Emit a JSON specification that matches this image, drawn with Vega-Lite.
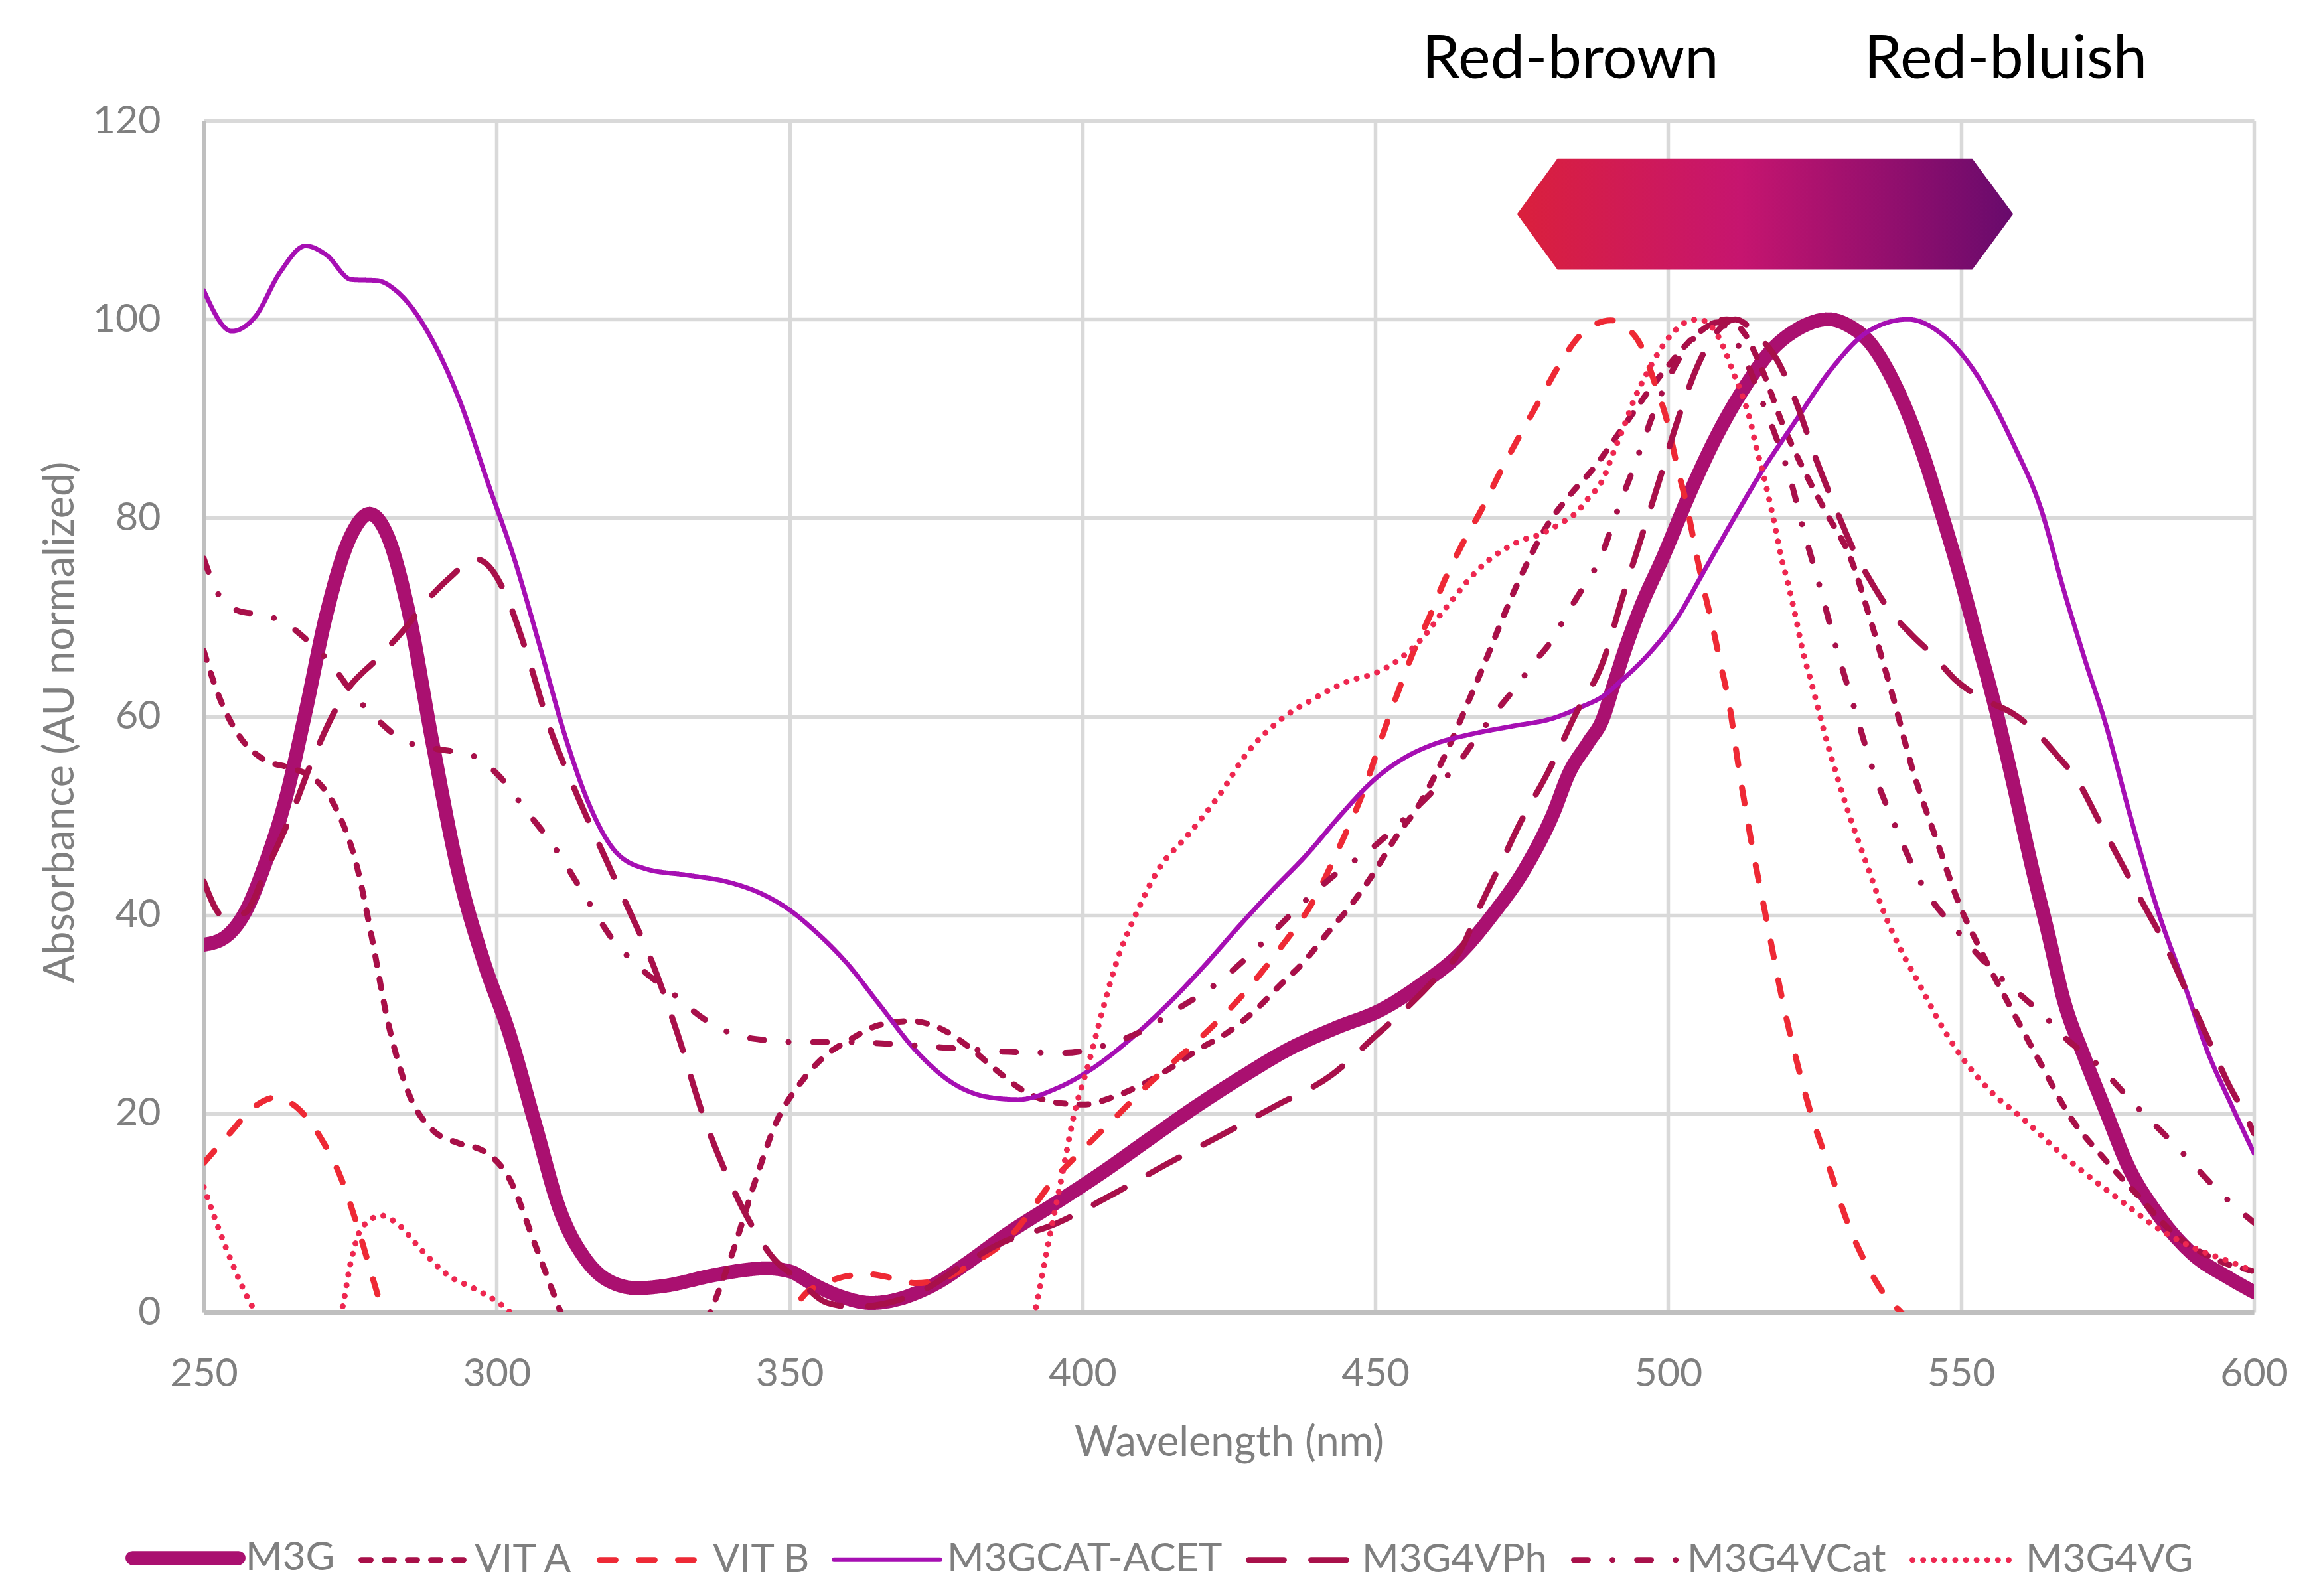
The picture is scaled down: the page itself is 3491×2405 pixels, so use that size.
{
"$schema": "https://vega.github.io/schema/vega-lite/v6.json",
"width": 3089, "height": 1795,
"autosize": {"type": "none"},
"padding": {"left": 307, "top": 182, "right": 95, "bottom": 428},
"background": "white",
"config": {
"view": {"stroke": null},
"axis": {"grid": true, "gridColor": "#D9D9D9", "gridWidth": 5.5, "domainColor": "#BFBFBF", "domainWidth": 7, "ticks": false, "tickSize": 0, "labelFont": "Lato", "labelFontSize": 59, "labelColor": "#7F7F7F", "titleFont": "Lato", "titleFontSize": 63, "titleColor": "#7F7F7F", "titleFontWeight": "normal", "labelFlush": false, "labelOverlap": false},
"legend": {"labelFont": "Lato", "labelFontSize": 60, "labelColor": "#7F7F7F", "padding": 0, "labelLimit": 1000}
},
"datasets": {
"curves": [
{"s":"M3G","x":250,"y":37},{"s":"M3G","x":253.5,"y":37.7},{"s":"M3G","x":257,"y":40.2},{"s":"M3G","x":260.4,"y":45},{"s":"M3G","x":263.9,"y":51.5},{"s":"M3G","x":267.4,"y":60.5},{"s":"M3G","x":270.9,"y":70.2},{"s":"M3G","x":275.2,"y":78.3},{"s":"M3G","x":278.3,"y":80.4},{"s":"M3G","x":281.3,"y":78.3},{"s":"M3G","x":284.8,"y":71},{"s":"M3G","x":289.1,"y":57.2},{"s":"M3G","x":293.5,"y":44.2},{"s":"M3G","x":297.8,"y":35.3},{"s":"M3G","x":302.2,"y":28},{"s":"M3G","x":306.5,"y":19.1},{"s":"M3G","x":310.9,"y":10.1},{"s":"M3G","x":315.2,"y":5.3},{"s":"M3G","x":319.6,"y":3},{"s":"M3G","x":324,"y":2.4},{"s":"M3G","x":328.3,"y":2.6},{"s":"M3G","x":337,"y":3.7},{"s":"M3G","x":342,"y":4.2},{"s":"M3G","x":346,"y":4.4},{"s":"M3G","x":350,"y":4.1},{"s":"M3G","x":354,"y":2.8},{"s":"M3G","x":359,"y":1.5},{"s":"M3G","x":364,"y":0.9},{"s":"M3G","x":368,"y":1.2},{"s":"M3G","x":372,"y":2},{"s":"M3G","x":376,"y":3.2},{"s":"M3G","x":380,"y":4.8},{"s":"M3G","x":387.5,"y":8},{"s":"M3G","x":395.5,"y":11},{"s":"M3G","x":403.5,"y":14.1},{"s":"M3G","x":411.4,"y":17.4},{"s":"M3G","x":419.4,"y":20.7},{"s":"M3G","x":427.3,"y":23.7},{"s":"M3G","x":435.3,"y":26.5},{"s":"M3G","x":443.2,"y":28.6},{"s":"M3G","x":451.2,"y":30.5},{"s":"M3G","x":457.6,"y":32.9},{"s":"M3G","x":464.6,"y":36.2},{"s":"M3G","x":470,"y":40},{"s":"M3G","x":475.7,"y":44.8},{"s":"M3G","x":480.3,"y":50.1},{"s":"M3G","x":483.1,"y":54.3},{"s":"M3G","x":486.4,"y":57.4},{"s":"M3G","x":488.8,"y":59.7},{"s":"M3G","x":490.6,"y":63},{"s":"M3G","x":492.5,"y":66.5},{"s":"M3G","x":495.3,"y":71},{"s":"M3G","x":499.1,"y":76},{"s":"M3G","x":503.7,"y":82.5},{"s":"M3G","x":508.4,"y":88.4},{"s":"M3G","x":513.1,"y":93.2},{"s":"M3G","x":517.8,"y":97},{"s":"M3G","x":521.8,"y":98.9},{"s":"M3G","x":527.4,"y":100},{"s":"M3G","x":531,"y":99.3},{"s":"M3G","x":534.2,"y":97.8},{"s":"M3G","x":538.5,"y":93.7},{"s":"M3G","x":542.8,"y":87.6},{"s":"M3G","x":546.5,"y":80.8},{"s":"M3G","x":549.6,"y":74.6},{"s":"M3G","x":552.7,"y":67.8},{"s":"M3G","x":555.8,"y":61},{"s":"M3G","x":558.8,"y":53.5},{"s":"M3G","x":561.9,"y":45.3},{"s":"M3G","x":565,"y":37.8},{"s":"M3G","x":567.4,"y":31.7},{"s":"M3G","x":571.1,"y":25.6},{"s":"M3G","x":574.8,"y":20.1},{"s":"M3G","x":578.5,"y":14.7},{"s":"M3G","x":583.5,"y":9.9},{"s":"M3G","x":589.6,"y":5.8},{"s":"M3G","x":595.8,"y":3.4},{"s":"M3G","x":600,"y":2},

{"s":"VIT A","x":250,"y":66.6},{"s":"VIT A","x":252.6,"y":62},{"s":"VIT A","x":256.1,"y":58},{"s":"VIT A","x":260.4,"y":55.6},{"s":"VIT A","x":264.8,"y":54.8},{"s":"VIT A","x":269.1,"y":53.6},{"s":"VIT A","x":272.6,"y":50.7},{"s":"VIT A","x":276.1,"y":45},{"s":"VIT A","x":278.7,"y":37.7},{"s":"VIT A","x":281.3,"y":29.6},{"s":"VIT A","x":284.8,"y":22.3},{"s":"VIT A","x":289.1,"y":18.3},{"s":"VIT A","x":293.5,"y":17},{"s":"VIT A","x":297.8,"y":16.2},{"s":"VIT A","x":302.2,"y":13.4},{"s":"VIT A","x":306.5,"y":6.9},{"s":"VIT A","x":310.9,"y":0},{"s":"VIT A","x":315,"y":-6},{"s":"VIT A","x":322,"y":-10},{"s":"VIT A","x":330,"y":-7},{"s":"VIT A","x":336.5,"y":0},{"s":"VIT A","x":340,"y":5.5},{"s":"VIT A","x":344.6,"y":14},{"s":"VIT A","x":347.8,"y":19.2},{"s":"VIT A","x":351.8,"y":23},{"s":"VIT A","x":355.7,"y":25.6},{"s":"VIT A","x":360.5,"y":27.5},{"s":"VIT A","x":365.3,"y":28.9},{"s":"VIT A","x":370.8,"y":29.3},{"s":"VIT A","x":375.6,"y":28.6},{"s":"VIT A","x":380.4,"y":26.8},{"s":"VIT A","x":385.2,"y":24.4},{"s":"VIT A","x":389.9,"y":22.3},{"s":"VIT A","x":395.5,"y":21.1},{"s":"VIT A","x":400.2,"y":20.9},{"s":"VIT A","x":405,"y":21.6},{"s":"VIT A","x":409.8,"y":22.8},{"s":"VIT A","x":414.6,"y":24.4},{"s":"VIT A","x":419.4,"y":26.3},{"s":"VIT A","x":424.9,"y":28.2},{"s":"VIT A","x":429.7,"y":30.5},{"s":"VIT A","x":433.7,"y":32.9},{"s":"VIT A","x":437.7,"y":35.2},{"s":"VIT A","x":441.6,"y":38},{"s":"VIT A","x":445.6,"y":40.8},{"s":"VIT A","x":449.6,"y":44.1},{"s":"VIT A","x":453.6,"y":47.9},{"s":"VIT A","x":457.6,"y":51.2},{"s":"VIT A","x":461,"y":55},{"s":"VIT A","x":467.7,"y":64},{"s":"VIT A","x":474.3,"y":73.4},{"s":"VIT A","x":479.4,"y":79.3},{"s":"VIT A","x":483.1,"y":82.2},{"s":"VIT A","x":487.4,"y":85.1},{"s":"VIT A","x":492.5,"y":89.3},{"s":"VIT A","x":496.7,"y":92.8},{"s":"VIT A","x":501.4,"y":96.3},{"s":"VIT A","x":504,"y":98},{"s":"VIT A","x":507,"y":99.4},{"s":"VIT A","x":510,"y":100},{"s":"VIT A","x":513,"y":98.6},{"s":"VIT A","x":516,"y":95},{"s":"VIT A","x":519.5,"y":89.5},{"s":"VIT A","x":523,"y":85},{"s":"VIT A","x":527,"y":80.5},{"s":"VIT A","x":531.1,"y":76},{"s":"VIT A","x":534.8,"y":69.2},{"s":"VIT A","x":538.5,"y":61.7},{"s":"VIT A","x":541.6,"y":54.9},{"s":"VIT A","x":545.9,"y":47.4},{"s":"VIT A","x":549.6,"y":41.2},{"s":"VIT A","x":553.9,"y":35.8},{"s":"VIT A","x":558.8,"y":30.3},{"s":"VIT A","x":563.7,"y":24.9},{"s":"VIT A","x":568.7,"y":19.6},{"s":"VIT A","x":574.2,"y":15.6},{"s":"VIT A","x":580.4,"y":11.6},{"s":"VIT A","x":586.5,"y":7.8},{"s":"VIT A","x":592.7,"y":5.5},{"s":"VIT A","x":600,"y":4.1},

{"s":"VIT B","x":250,"y":15},{"s":"VIT B","x":254.3,"y":17.9},{"s":"VIT B","x":258.7,"y":20.7},{"s":"VIT B","x":262.2,"y":21.6},{"s":"VIT B","x":265.7,"y":20.7},{"s":"VIT B","x":270,"y":17.5},{"s":"VIT B","x":273.5,"y":13.4},{"s":"VIT B","x":276.1,"y":8.9},{"s":"VIT B","x":278.7,"y":3.7},{"s":"VIT B","x":280.4,"y":0.3},{"s":"VIT B","x":283,"y":-5},{"s":"VIT B","x":300,"y":-20},{"s":"VIT B","x":330,"y":-15},{"s":"VIT B","x":345,"y":-4},{"s":"VIT B","x":350.3,"y":0},{"s":"VIT B","x":353,"y":2},{"s":"VIT B","x":355.7,"y":2.8},{"s":"VIT B","x":359.7,"y":3.6},{"s":"VIT B","x":363.7,"y":3.8},{"s":"VIT B","x":367.6,"y":3.4},{"s":"VIT B","x":371.6,"y":2.9},{"s":"VIT B","x":376,"y":3.3},{"s":"VIT B","x":381,"y":4.8},{"s":"VIT B","x":387.5,"y":7.5},{"s":"VIT B","x":395.5,"y":13.6},{"s":"VIT B","x":401,"y":16.9},{"s":"VIT B","x":405.8,"y":19.7},{"s":"VIT B","x":411.4,"y":23},{"s":"VIT B","x":419.4,"y":27.2},{"s":"VIT B","x":427.3,"y":31.9},{"s":"VIT B","x":433.7,"y":36.6},{"s":"VIT B","x":439.3,"y":41.3},{"s":"VIT B","x":444,"y":47},{"s":"VIT B","x":448,"y":52.5},{"s":"VIT B","x":451.3,"y":58.2},{"s":"VIT B","x":454.1,"y":62.8},{"s":"VIT B","x":456.5,"y":66.5},{"s":"VIT B","x":459.3,"y":70.1},{"s":"VIT B","x":461.6,"y":73.4},{"s":"VIT B","x":464.9,"y":77.4},{"s":"VIT B","x":468.2,"y":80.9},{"s":"VIT B","x":471.4,"y":84.7},{"s":"VIT B","x":474.2,"y":87.8},{"s":"VIT B","x":477.9,"y":91.7},{"s":"VIT B","x":481.3,"y":95.3},{"s":"VIT B","x":485,"y":98.4},{"s":"VIT B","x":490.2,"y":99.9},{"s":"VIT B","x":492.5,"y":99.3},{"s":"VIT B","x":495.3,"y":97.4},{"s":"VIT B","x":497.7,"y":93.6},{"s":"VIT B","x":500,"y":89.3},{"s":"VIT B","x":501.4,"y":85.5},{"s":"VIT B","x":503.3,"y":80.9},{"s":"VIT B","x":504.7,"y":76.7},{"s":"VIT B","x":506.1,"y":72.8},{"s":"VIT B","x":507.5,"y":69.3},{"s":"VIT B","x":509,"y":65.1},{"s":"VIT B","x":510.4,"y":61.3},{"s":"VIT B","x":512,"y":55},{"s":"VIT B","x":514.4,"y":46.7},{"s":"VIT B","x":516.9,"y":39.2},{"s":"VIT B","x":519.4,"y":31.7},{"s":"VIT B","x":521.8,"y":25.6},{"s":"VIT B","x":524.3,"y":20.1},{"s":"VIT B","x":527.4,"y":14.7},{"s":"VIT B","x":530.5,"y":9.2},{"s":"VIT B","x":534.2,"y":4.4},{"s":"VIT B","x":537.9,"y":1},{"s":"VIT B","x":539.7,"y":0},{"s":"VIT B","x":543,"y":-3},{"s":"VIT B","x":555,"y":-12},{"s":"VIT B","x":600,"y":-30},

{"s":"M3GCAT-ACET","x":250,"y":102.9},{"s":"M3GCAT-ACET","x":254.8,"y":98.8},{"s":"M3GCAT-ACET","x":258.7,"y":100.2},{"s":"M3GCAT-ACET","x":263,"y":104.7},{"s":"M3GCAT-ACET","x":267.4,"y":107.4},{"s":"M3GCAT-ACET","x":270.9,"y":106.5},{"s":"M3GCAT-ACET","x":275.2,"y":104},{"s":"M3GCAT-ACET","x":279.6,"y":103.9},{"s":"M3GCAT-ACET","x":283,"y":102.8},{"s":"M3GCAT-ACET","x":289.1,"y":97.8},{"s":"M3GCAT-ACET","x":293.5,"y":92.1},{"s":"M3GCAT-ACET","x":298.7,"y":83.2},{"s":"M3GCAT-ACET","x":303,"y":75.9},{"s":"M3GCAT-ACET","x":307.4,"y":67},{"s":"M3GCAT-ACET","x":311.7,"y":58},{"s":"M3GCAT-ACET","x":316.1,"y":50.7},{"s":"M3GCAT-ACET","x":320.4,"y":46.3},{"s":"M3GCAT-ACET","x":325.7,"y":44.6},{"s":"M3GCAT-ACET","x":332.6,"y":44},{"s":"M3GCAT-ACET","x":339.6,"y":43.3},{"s":"M3GCAT-ACET","x":345.7,"y":42},{"s":"M3GCAT-ACET","x":350,"y":40.5},{"s":"M3GCAT-ACET","x":354.1,"y":38.5},{"s":"M3GCAT-ACET","x":359.7,"y":35.2},{"s":"M3GCAT-ACET","x":365.3,"y":31},{"s":"M3GCAT-ACET","x":371.6,"y":26.3},{"s":"M3GCAT-ACET","x":378,"y":23},{"s":"M3GCAT-ACET","x":384.4,"y":21.6},{"s":"M3GCAT-ACET","x":389.1,"y":21.4},{"s":"M3GCAT-ACET","x":395.5,"y":22.5},{"s":"M3GCAT-ACET","x":401.9,"y":24.6},{"s":"M3GCAT-ACET","x":408.2,"y":27.5},{"s":"M3GCAT-ACET","x":414.6,"y":31},{"s":"M3GCAT-ACET","x":421,"y":35},{"s":"M3GCAT-ACET","x":426.5,"y":38.7},{"s":"M3GCAT-ACET","x":432.1,"y":42.3},{"s":"M3GCAT-ACET","x":438.5,"y":46.2},{"s":"M3GCAT-ACET","x":444,"y":50},{"s":"M3GCAT-ACET","x":449.6,"y":53.5},{"s":"M3GCAT-ACET","x":455.2,"y":55.9},{"s":"M3GCAT-ACET","x":460,"y":57.2},{"s":"M3GCAT-ACET","x":466.3,"y":58.2},{"s":"M3GCAT-ACET","x":473.3,"y":59},{"s":"M3GCAT-ACET","x":480.3,"y":59.8},{"s":"M3GCAT-ACET","x":485,"y":60.9},{"s":"M3GCAT-ACET","x":488.8,"y":62},{"s":"M3GCAT-ACET","x":492,"y":63.6},{"s":"M3GCAT-ACET","x":496.7,"y":66.3},{"s":"M3GCAT-ACET","x":501.4,"y":69.8},{"s":"M3GCAT-ACET","x":506,"y":74.5},{"s":"M3GCAT-ACET","x":510.8,"y":79.5},{"s":"M3GCAT-ACET","x":515.6,"y":84.3},{"s":"M3GCAT-ACET","x":521.8,"y":89.8},{"s":"M3GCAT-ACET","x":528,"y":95.1},{"s":"M3GCAT-ACET","x":534.2,"y":98.8},{"s":"M3GCAT-ACET","x":540.9,"y":100},{"s":"M3GCAT-ACET","x":546.5,"y":98.6},{"s":"M3GCAT-ACET","x":552.7,"y":94.4},{"s":"M3GCAT-ACET","x":558.8,"y":87.6},{"s":"M3GCAT-ACET","x":563.7,"y":80.8},{"s":"M3GCAT-ACET","x":567.4,"y":73},{"s":"M3GCAT-ACET","x":571.1,"y":65.8},{"s":"M3GCAT-ACET","x":574.8,"y":59},{"s":"M3GCAT-ACET","x":578.5,"y":50.8},{"s":"M3GCAT-ACET","x":583.5,"y":40.6},{"s":"M3GCAT-ACET","x":588.4,"y":32.5},{"s":"M3GCAT-ACET","x":592.1,"y":26.2},{"s":"M3GCAT-ACET","x":595.8,"y":21.3},{"s":"M3GCAT-ACET","x":600,"y":16},

{"s":"M3G4VPh","x":250,"y":43.4},{"s":"M3G4VPh","x":253.5,"y":39.8},{"s":"M3G4VPh","x":257,"y":40.2},{"s":"M3G4VPh","x":260.4,"y":44.2},{"s":"M3G4VPh","x":264.8,"y":49.9},{"s":"M3G4VPh","x":269.1,"y":56.4},{"s":"M3G4VPh","x":274.3,"y":62.5},{"s":"M3G4VPh","x":279.6,"y":65.8},{"s":"M3G4VPh","x":284,"y":68.6},{"s":"M3G4VPh","x":288.3,"y":71.8},{"s":"M3G4VPh","x":292.6,"y":74.3},{"s":"M3G4VPh","x":296.1,"y":75.9},{"s":"M3G4VPh","x":298.7,"y":75.1},{"s":"M3G4VPh","x":301.3,"y":72.6},{"s":"M3G4VPh","x":304.8,"y":67},{"s":"M3G4VPh","x":309.1,"y":58.8},{"s":"M3G4VPh","x":313.5,"y":52.4},{"s":"M3G4VPh","x":317.8,"y":46.7},{"s":"M3G4VPh","x":322.2,"y":41},{"s":"M3G4VPh","x":326.5,"y":35.3},{"s":"M3G4VPh","x":330.9,"y":28},{"s":"M3G4VPh","x":335.2,"y":19.9},{"s":"M3G4VPh","x":339.6,"y":13.4},{"s":"M3G4VPh","x":343,"y":9.3},{"s":"M3G4VPh","x":347.4,"y":5.3},{"s":"M3G4VPh","x":351,"y":3.5},{"s":"M3G4VPh","x":356.5,"y":0.9},{"s":"M3G4VPh","x":361,"y":0.5},{"s":"M3G4VPh","x":366,"y":0.8},{"s":"M3G4VPh","x":373.2,"y":2.3},{"s":"M3G4VPh","x":379,"y":4.5},{"s":"M3G4VPh","x":385.6,"y":6.8},{"s":"M3G4VPh","x":395.5,"y":8.9},{"s":"M3G4VPh","x":405,"y":11.8},{"s":"M3G4VPh","x":414.4,"y":14.9},{"s":"M3G4VPh","x":424,"y":17.9},{"s":"M3G4VPh","x":433.1,"y":20.8},{"s":"M3G4VPh","x":442.4,"y":23.8},{"s":"M3G4VPh","x":450.2,"y":27.9},{"s":"M3G4VPh","x":456,"y":31},{"s":"M3G4VPh","x":460.3,"y":33.6},{"s":"M3G4VPh","x":464.6,"y":36.5},{"s":"M3G4VPh","x":468,"y":41},{"s":"M3G4VPh","x":471.7,"y":45.5},{"s":"M3G4VPh","x":474.5,"y":49},{"s":"M3G4VPh","x":479.6,"y":54.5},{"s":"M3G4VPh","x":484.1,"y":60.1},{"s":"M3G4VPh","x":489,"y":65.7},{"s":"M3G4VPh","x":492.1,"y":71.8},{"s":"M3G4VPh","x":495.3,"y":77.8},{"s":"M3G4VPh","x":498.5,"y":83.8},{"s":"M3G4VPh","x":501.6,"y":89.8},{"s":"M3G4VPh","x":505.4,"y":95.8},{"s":"M3G4VPh","x":508,"y":98.5},{"s":"M3G4VPh","x":511.5,"y":100},{"s":"M3G4VPh","x":515,"y":98.5},{"s":"M3G4VPh","x":518.7,"y":95.8},{"s":"M3G4VPh","x":521.8,"y":91.7},{"s":"M3G4VPh","x":525.5,"y":85.5},{"s":"M3G4VPh","x":529.2,"y":80.1},{"s":"M3G4VPh","x":531.7,"y":76.7},{"s":"M3G4VPh","x":534.2,"y":74},{"s":"M3G4VPh","x":537.9,"y":70.6},{"s":"M3G4VPh","x":541.6,"y":68.2},{"s":"M3G4VPh","x":545.3,"y":66.1},{"s":"M3G4VPh","x":549,"y":63.7},{"s":"M3G4VPh","x":553.9,"y":61.7},{"s":"M3G4VPh","x":558.8,"y":60.3},{"s":"M3G4VPh","x":562.5,"y":58.6},{"s":"M3G4VPh","x":566.2,"y":56.2},{"s":"M3G4VPh","x":569.9,"y":53.5},{"s":"M3G4VPh","x":573.6,"y":49.4},{"s":"M3G4VPh","x":577.3,"y":45.3},{"s":"M3G4VPh","x":581,"y":41.2},{"s":"M3G4VPh","x":584.7,"y":37.2},{"s":"M3G4VPh","x":588.4,"y":32.4},{"s":"M3G4VPh","x":592.1,"y":27.6},{"s":"M3G4VPh","x":595.8,"y":22.8},{"s":"M3G4VPh","x":598.3,"y":20.1},{"s":"M3G4VPh","x":600,"y":18},

{"s":"M3G4VCat","x":250,"y":75.9},{"s":"M3G4VCat","x":252.6,"y":72.2},{"s":"M3G4VCat","x":256.1,"y":70.6},{"s":"M3G4VCat","x":260.4,"y":70.2},{"s":"M3G4VCat","x":263.9,"y":69.4},{"s":"M3G4VCat","x":267.4,"y":67.8},{"s":"M3G4VCat","x":271.7,"y":65.3},{"s":"M3G4VCat","x":275.2,"y":62.5},{"s":"M3G4VCat","x":279.6,"y":59.7},{"s":"M3G4VCat","x":284,"y":57.6},{"s":"M3G4VCat","x":289.1,"y":56.8},{"s":"M3G4VCat","x":296.1,"y":56},{"s":"M3G4VCat","x":300.4,"y":54},{"s":"M3G4VCat","x":304.8,"y":50.7},{"s":"M3G4VCat","x":310,"y":46.7},{"s":"M3G4VCat","x":315.2,"y":41.8},{"s":"M3G4VCat","x":319.6,"y":37.7},{"s":"M3G4VCat","x":324.8,"y":34.5},{"s":"M3G4VCat","x":330,"y":32.1},{"s":"M3G4VCat","x":335.2,"y":29.6},{"s":"M3G4VCat","x":340.4,"y":28},{"s":"M3G4VCat","x":345.7,"y":27.4},{"s":"M3G4VCat","x":350.9,"y":27.2},{"s":"M3G4VCat","x":359.7,"y":27.2},{"s":"M3G4VCat","x":370,"y":26.9},{"s":"M3G4VCat","x":379.6,"y":26.5},{"s":"M3G4VCat","x":387.5,"y":26.2},{"s":"M3G4VCat","x":397.1,"y":26.1},{"s":"M3G4VCat","x":403.5,"y":26.8},{"s":"M3G4VCat","x":409.8,"y":28.2},{"s":"M3G4VCat","x":416.2,"y":30.5},{"s":"M3G4VCat","x":423.4,"y":33.3},{"s":"M3G4VCat","x":429.7,"y":36.6},{"s":"M3G4VCat","x":436.9,"y":40.8},{"s":"M3G4VCat","x":443.2,"y":44.1},{"s":"M3G4VCat","x":449.6,"y":46.8},{"s":"M3G4VCat","x":455.2,"y":49.8},{"s":"M3G4VCat","x":460.7,"y":53},{"s":"M3G4VCat","x":464.2,"y":55.3},{"s":"M3G4VCat","x":467.2,"y":57.8},{"s":"M3G4VCat","x":470.5,"y":60.4},{"s":"M3G4VCat","x":473.8,"y":62.8},{"s":"M3G4VCat","x":477.1,"y":65.4},{"s":"M3G4VCat","x":480.3,"y":67.8},{"s":"M3G4VCat","x":482.9,"y":70.5},{"s":"M3G4VCat","x":485.7,"y":73.2},{"s":"M3G4VCat","x":488.5,"y":76},{"s":"M3G4VCat","x":490.2,"y":78.8},{"s":"M3G4VCat","x":492,"y":81.8},{"s":"M3G4VCat","x":493.9,"y":84.7},{"s":"M3G4VCat","x":495.8,"y":87.8},{"s":"M3G4VCat","x":497.6,"y":90.7},{"s":"M3G4VCat","x":499.6,"y":93.5},{"s":"M3G4VCat","x":503.7,"y":97.6},{"s":"M3G4VCat","x":506.6,"y":99.3},{"s":"M3G4VCat","x":508.5,"y":99.7},{"s":"M3G4VCat","x":511,"y":98.3},{"s":"M3G4VCat","x":513.5,"y":95.5},{"s":"M3G4VCat","x":516,"y":91.8},{"s":"M3G4VCat","x":518.5,"y":88},{"s":"M3G4VCat","x":520.8,"y":84},{"s":"M3G4VCat","x":523,"y":79},{"s":"M3G4VCat","x":526.1,"y":72.6},{"s":"M3G4VCat","x":528.6,"y":67.1},{"s":"M3G4VCat","x":531.7,"y":61},{"s":"M3G4VCat","x":534.8,"y":54.9},{"s":"M3G4VCat","x":538.8,"y":48.9},{"s":"M3G4VCat","x":543.1,"y":43.3},{"s":"M3G4VCat","x":549.6,"y":38.2},{"s":"M3G4VCat","x":556.7,"y":33.7},{"s":"M3G4VCat","x":561,"y":31.5},{"s":"M3G4VCat","x":564.4,"y":29.7},{"s":"M3G4VCat","x":568,"y":27.5},{"s":"M3G4VCat","x":572.4,"y":25.4},{"s":"M3G4VCat","x":579.8,"y":20.8},{"s":"M3G4VCat","x":587.2,"y":16.4},{"s":"M3G4VCat","x":594.6,"y":11.8},{"s":"M3G4VCat","x":600,"y":9},

{"s":"M3G4VG","x":250,"y":12.6},{"s":"M3G4VG","x":253.5,"y":6.9},{"s":"M3G4VG","x":257,"y":2},{"s":"M3G4VG","x":258.7,"y":0},{"s":"M3G4VG","x":262,"y":-6},{"s":"M3G4VG","x":268,"y":-6},{"s":"M3G4VG","x":273.5,"y":0},{"s":"M3G4VG","x":275.2,"y":5.3},{"s":"M3G4VG","x":277,"y":8.5},{"s":"M3G4VG","x":280.4,"y":9.7},{"s":"M3G4VG","x":283,"y":8.9},{"s":"M3G4VG","x":287.4,"y":6.1},{"s":"M3G4VG","x":291.7,"y":3.7},{"s":"M3G4VG","x":296,"y":2.4},{"s":"M3G4VG","x":299.6,"y":1.2},{"s":"M3G4VG","x":302.2,"y":0},{"s":"M3G4VG","x":310,"y":-10},{"s":"M3G4VG","x":350,"y":-40},{"s":"M3G4VG","x":385,"y":-12},{"s":"M3G4VG","x":391.9,"y":0},{"s":"M3G4VG","x":393.9,"y":6.1},{"s":"M3G4VG","x":396.3,"y":13.1},{"s":"M3G4VG","x":398.7,"y":20.2},{"s":"M3G4VG","x":401,"y":24.9},{"s":"M3G4VG","x":403.5,"y":30.5},{"s":"M3G4VG","x":405.8,"y":35.2},{"s":"M3G4VG","x":409,"y":39.9},{"s":"M3G4VG","x":413,"y":44.6},{"s":"M3G4VG","x":417.8,"y":47.9},{"s":"M3G4VG","x":423.4,"y":52.1},{"s":"M3G4VG","x":428.1,"y":56.3},{"s":"M3G4VG","x":433.7,"y":59.6},{"s":"M3G4VG","x":439.3,"y":61.7},{"s":"M3G4VG","x":445.6,"y":63.6},{"s":"M3G4VG","x":449.7,"y":64.3},{"s":"M3G4VG","x":453,"y":65.3},{"s":"M3G4VG","x":456.2,"y":66.8},{"s":"M3G4VG","x":458.8,"y":68.4},{"s":"M3G4VG","x":461.2,"y":70.3},{"s":"M3G4VG","x":463.5,"y":72},{"s":"M3G4VG","x":466,"y":73.8},{"s":"M3G4VG","x":468.9,"y":75.5},{"s":"M3G4VG","x":471.9,"y":76.8},{"s":"M3G4VG","x":475.2,"y":77.8},{"s":"M3G4VG","x":478,"y":78.3},{"s":"M3G4VG","x":481.2,"y":79.3},{"s":"M3G4VG","x":484.6,"y":80.7},{"s":"M3G4VG","x":486.4,"y":82},{"s":"M3G4VG","x":488.8,"y":83.8},{"s":"M3G4VG","x":490.6,"y":86.5},{"s":"M3G4VG","x":492.5,"y":89.3},{"s":"M3G4VG","x":494.4,"y":92.2},{"s":"M3G4VG","x":496.3,"y":94.5},{"s":"M3G4VG","x":498.5,"y":96.8},{"s":"M3G4VG","x":501.4,"y":99},{"s":"M3G4VG","x":503.3,"y":99.8},{"s":"M3G4VG","x":505.2,"y":100},{"s":"M3G4VG","x":508,"y":98.8},{"s":"M3G4VG","x":509.8,"y":96.7},{"s":"M3G4VG","x":511.2,"y":94.5},{"s":"M3G4VG","x":512.6,"y":92.4},{"s":"M3G4VG","x":514,"y":89.8},{"s":"M3G4VG","x":515,"y":87.2},{"s":"M3G4VG","x":516.4,"y":84},{"s":"M3G4VG","x":517.3,"y":81.7},{"s":"M3G4VG","x":518.3,"y":79},{"s":"M3G4VG","x":519.2,"y":76.3},{"s":"M3G4VG","x":520.5,"y":73.3},{"s":"M3G4VG","x":521.8,"y":69.9},{"s":"M3G4VG","x":523,"y":66.5},{"s":"M3G4VG","x":524.3,"y":63.7},{"s":"M3G4VG","x":525.5,"y":61},{"s":"M3G4VG","x":526.7,"y":58.3},{"s":"M3G4VG","x":528,"y":55.6},{"s":"M3G4VG","x":529.8,"y":52.1},{"s":"M3G4VG","x":531.7,"y":48.7},{"s":"M3G4VG","x":534.2,"y":44.6},{"s":"M3G4VG","x":536.6,"y":40.6},{"s":"M3G4VG","x":539.7,"y":36.5},{"s":"M3G4VG","x":542.8,"y":33.1},{"s":"M3G4VG","x":546.5,"y":29},{"s":"M3G4VG","x":550.2,"y":25.6},{"s":"M3G4VG","x":555.1,"y":22.2},{"s":"M3G4VG","x":560.7,"y":19.4},{"s":"M3G4VG","x":566.2,"y":16.4},{"s":"M3G4VG","x":571.1,"y":14},{"s":"M3G4VG","x":577.3,"y":11.2},{"s":"M3G4VG","x":583.4,"y":8.5},{"s":"M3G4VG","x":589.6,"y":6.5},{"s":"M3G4VG","x":595.8,"y":5.1},{"s":"M3G4VG","x":600,"y":4.1}
],
"arrow": [
{"x":474.2,"top":110.6,"bottom":110.6},{"x":481.1,"top":116.2,"bottom":105.0},{"x":551.9,"top":116.2,"bottom":105.0},{"x":558.9,"top":110.6,"bottom":110.6}
],
"labels": [
{"label":"Red-brown","x":483.3,"y":124.3},{"label":"Red-bluish","x":557.6,"y":124.3}
]
},
"layer": [
{
"data": {"name": "curves"},
"mark": {"type": "line", "interpolate": "monotone", "clip": true, "strokeCap": "round", "strokeJoin": "round"},
"encoding": {
"x": {"field": "x", "type": "quantitative", "title": "Wavelength (nm)",
"scale": {"domain": [250, 600], "nice": false, "zero": false},
"axis": {"values": [250,300,350,400,450,500,550,600], "labelPadding": 64, "titleY": 216, "titleBaseline": "alphabetic"}},
"y": {"field": "y", "type": "quantitative", "title": "Absorbance (AU normalized)",
"scale": {"domain": [0, 120], "nice": false, "zero": false},
"axis": {"values": [0,20,40,60,80,100,120], "labelPadding": 65, "titleX": -197, "titleY": 906, "titleAngle": -90, "titleAlign": "center", "titleBaseline": "alphabetic"}},
"color": {"field": "s", "type": "nominal",
"scale": {"domain": ["M3G","VIT A","VIT B","M3GCAT-ACET","M3G4VPh","M3G4VCat","M3G4VG"], "range": ["#AA1070","#A80F48","#EE2935","#A60FB3","#A8104A","#A8104A","#EE2750"]},
"legend": {"title": null, "orient": "none", "legendX": -118, "legendY": 2075, "direction": "horizontal", "columns": 7, "columnPadding": 21, "symbolType": "stroke", "symbolSize": 25600, "labelOffset": 0, "labelLimit": 1000, "encode": {"symbols": {"update": {"strokeCap": {"value": "round"}}}}}},
"strokeDash": {"field": "s", "type": "nominal",
"scale": {"domain": ["M3G","VIT A","VIT B","M3GCAT-ACET","M3G4VPh","M3G4VCat","M3G4VG"], "range": [[1,0],[14,21],[24,35],[1,0],[53,41],[21,37,0.1,37],[0.1,16]]},
"legend": {"title": null, "orient": "none", "legendX": -118, "legendY": 2075, "direction": "horizontal", "columns": 7, "columnPadding": 21, "symbolType": "stroke", "symbolSize": 25600, "labelOffset": 0, "labelLimit": 1000, "encode": {"symbols": {"update": {"strokeCap": {"value": "round"}}}}}},
"strokeWidth": {"field": "s", "type": "nominal",
"scale": {"type": "ordinal", "domain": ["M3G","VIT A","VIT B","M3GCAT-ACET","M3G4VPh","M3G4VCat","M3G4VG"], "range": [21,9,9,7,9,9,9]},
"legend": {"title": null, "orient": "none", "legendX": -118, "legendY": 2075, "direction": "horizontal", "columns": 7, "columnPadding": 21, "symbolType": "stroke", "symbolSize": 25600, "labelOffset": 0, "labelLimit": 1000, "encode": {"symbols": {"update": {"strokeCap": {"value": "round"}}}}}}
}
},
{
"data": {"name": "arrow"},
"mark": {"type": "area", "interpolate": "linear", "clip": false,
"fill": {"gradient": "linear", "x1": 0, "y1": 0, "x2": 1, "y2": 0, "stops": [{"offset": 0, "color": "#DA203C"}, {"offset": 0.45, "color": "#C6156F"}, {"offset": 1, "color": "#680A6C"}]}},
"encoding": {
"x": {"field": "x", "type": "quantitative", "title": "Wavelength (nm)"},
"y": {"field": "top", "type": "quantitative", "title": "Absorbance (AU normalized)"},
"y2": {"field": "bottom"}
}
},
{
"data": {"name": "labels"},
"mark": {"type": "text", "font": "Lato", "fontSize": 92, "color": "#000000", "align": "center", "baseline": "alphabetic", "clip": false},
"encoding": {
"x": {"field": "x", "type": "quantitative", "title": "Wavelength (nm)"},
"y": {"field": "y", "type": "quantitative", "title": "Absorbance (AU normalized)"},
"text": {"field": "label"}
}
}
]
}
